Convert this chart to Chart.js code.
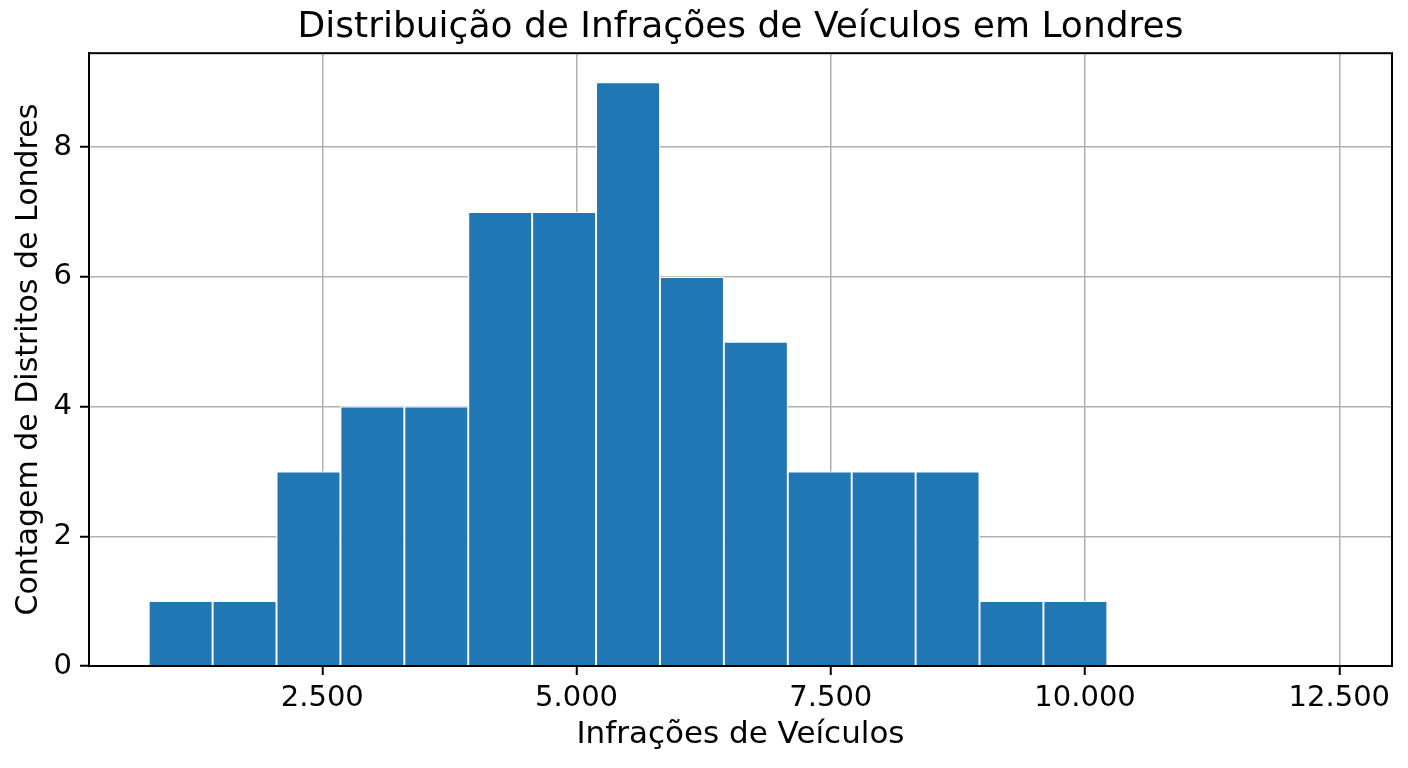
<!DOCTYPE html>
<html>
<head>
<meta charset="utf-8">
<script src="https://cdn.jsdelivr.net/npm/chart.js@4/dist/chart.umd.min.js"></script>
<style>
  html, body { margin: 0; padding: 0; background: #fff; }
  #wrap { width: 1408px; height: 768px; }
</style>
</head>
<body>
<div id="wrap"><canvas id="c" width="1408" height="768"></canvas></div>
<script>
// ---- Data ----
const titleText = 'Distribuição de Infrações de Veículos em Londres';
const xTitle = 'Infrações de Veículos';
const yTitle = 'Contagem de Distritos de Londres';
const binStart = 793;
const binWidth = 628.4;
const counts = [1, 1, 3, 4, 4, 7, 7, 9, 6, 5, 3, 3, 3, 1, 1];
const xTicks = [2500, 5000, 7500, 10000, 12500];
const yTicks = [0, 2, 4, 6, 8];
const xRange = [206, 13018];
const yRange = [0, 9.45];

const points = counts.map((c, i) => ({ x: binStart + binWidth * (i + 0.5), y: c }));

const fmt = v => String(Math.round(v)).replace(/\B(?=(\d{3})+(?!\d))/g, '.');
const FONT = "'DejaVu Sans', 'Liberation Sans', sans-serif";

const frame = {
  id: 'frame',
  afterDatasetsDraw(chart) {
    const { ctx, chartArea: a } = chart;
    ctx.save();
    ctx.strokeStyle = '#000';
    ctx.lineWidth = 2;
    ctx.strokeRect(a.left, a.top, a.right - a.left, a.bottom - a.top);
    ctx.restore();
  }
};

new Chart(document.getElementById('c'), {
  type: 'bar',
  data: {
    datasets: [{
      data: points,
      backgroundColor: '#1f77b4',
      borderColor: '#ffffff',
      borderWidth: 1.3,
      barPercentage: 1,
      categoryPercentage: 1
    }]
  },
  options: {
    responsive: false,
    animation: false,
    devicePixelRatio: 1,
    layout: { padding: { left: 0, right: 16, top: 0, bottom: 0 } },
    plugins: {
      legend: { display: false },
      tooltip: { enabled: false },
      title: {
        display: true,
        text: titleText,
        fullSize: false,
        color: '#000',
        font: { family: FONT, size: 36, weight: 'normal' },
        padding: { top: 6, bottom: 4 }
      }
    },
    scales: {
      x: {
        type: 'linear',
        min: xRange[0],
        max: xRange[1],
        offset: false,
        afterBuildTicks: s => { s.ticks = xTicks.map(v => ({ value: v })); },
        afterFit: s => { s.height = 102; },
        ticks: {
          color: '#000',
          font: { family: FONT, size: 29 },
          padding: 6,
          maxRotation: 0,
          autoSkip: false,
          callback: v => fmt(v)
        },
        grid: {
          offset: false,
          color: '#b0b0b0',
          lineWidth: 1.5,
          tickColor: '#000',
          tickWidth: 2,
          tickLength: 9,
          drawTicks: true
        },
        border: { color: '#000', width: 2 },
        title: {
          display: true,
          text: xTitle,
          color: '#000',
          font: { family: FONT, size: 31 },
          padding: { top: 0, bottom: 14 }
        }
      },
      y: {
        type: 'linear',
        min: yRange[0],
        max: yRange[1],
        afterBuildTicks: s => { s.ticks = yTicks.map(v => ({ value: v })); },
        afterFit: s => { s.width = 89; },
        ticks: {
          color: '#000',
          font: { family: FONT, size: 29 },
          padding: 8,
          autoSkip: false,
          callback: v => String(v)
        },
        grid: {
          offset: false,
          color: '#b0b0b0',
          lineWidth: 1.5,
          tickColor: '#000',
          tickWidth: 2,
          tickLength: 9,
          drawTicks: true
        },
        border: { color: '#000', width: 2 },
        title: {
          display: true,
          text: yTitle,
          color: '#000',
          font: { family: FONT, size: 30 },
          padding: { top: 11, bottom: 0 }
        }
      }
    }
  },
  plugins: [frame]
});
</script>
</body>
</html>
